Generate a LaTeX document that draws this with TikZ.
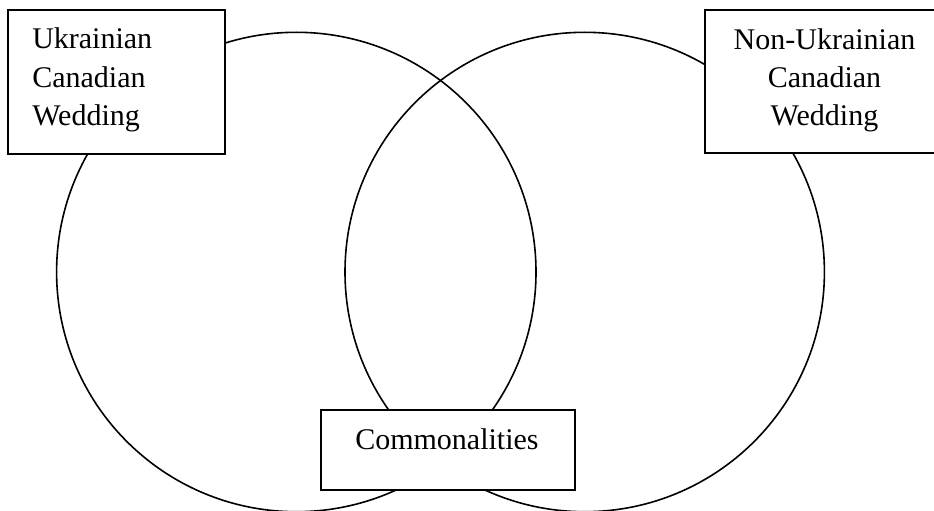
\documentclass[tikz,border=0pt]{standalone}
\usepackage{fontspec}
\setmainfont{Liberation Serif}
\begin{document}
\begin{tikzpicture}[x=0.75pt,y=0.75pt,yscale=-1,xscale=1,
  ring/.style={line width=1.2},
  tagbox/.style={line width=1.2,fill=white},
  wedtext/.style={inner sep=0pt,font=\fontsize{22.5}{28}\selectfont}]
\useasboundingbox (0,0) rectangle (934,510);
\clip (0,0) rectangle (934,510);

%Shape: Circle left
\draw [ring] (296.3,272) circle [radius=239.7];
%Shape: Circle right
\draw [ring] (584.7,272) circle [radius=239.7];

%Shape: Rectangle left
\draw [tagbox] (8,10) rectangle (225,154);
%Shape: Rectangle right
\draw [tagbox] (705,10) rectangle (944,153);
%Shape: Rectangle bottom
\draw [tagbox] (321,410) rectangle (575,490);

% Text Node
\node (ukrA) [wedtext,anchor=base west] at (32,49) {Ukrainian};
% Text Node
\node (ukrB) [wedtext,anchor=base west] at (32,87) {Canadian};
% Text Node
\node (ukrC) [wedtext,anchor=base west] at (32,125) {Wedding};
% Text Node
\node (nonA) [wedtext,anchor=base] at (824.5,50) {Non-Ukrainian};
% Text Node
\node (nonB) [wedtext,anchor=base] at (824.5,88) {Canadian};
% Text Node
\node (nonC) [wedtext,anchor=base] at (824.5,125) {Wedding};
% Text Node
\node (common) [wedtext,anchor=base west] at (355,449) {Commonalities};

\end{tikzpicture}
\end{document}
